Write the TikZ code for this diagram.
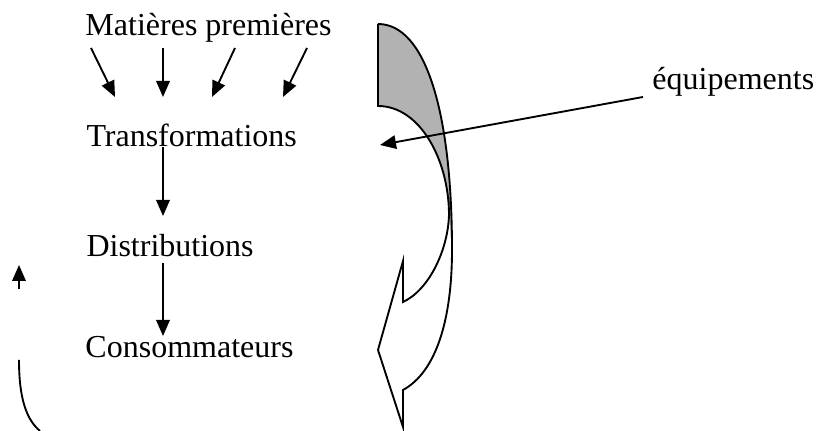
\documentclass[tikz,border=0pt]{standalone}
\usepackage{fontspec}
\setmainfont{Liberation Serif}
\usetikzlibrary{arrows.meta}
\begin{document}
\begin{tikzpicture}[x=0.4pt,y=-0.4pt,
    lbl/.style={anchor=base west, inner sep=0pt, font=\fontsize{12.8}{15}\selectfont},
    arr/.style={-{Triangle[length=6.4pt,width=5.4pt]}, line width=0.75pt},
    band/.style={line width=0.75pt, line join=miter}]
    \useasboundingbox (0,0) rectangle (816,431);

    \node[lbl] (mp) at (85,36) {Matières premières};
    \node[lbl] (tr) at (86,147) {Transformations};
    \node[lbl] (di) at (86,257) {Distributions};
    \node[lbl] (co) at (85,358) {Consommateurs};
    \node[lbl] (eq) at (652,90) {équipements};

    \coordinate (m1) at (91,48);   \coordinate (n1) at (115,97);
    \coordinate (m2) at (163,48);  \coordinate (n2) at (163,97);
    \coordinate (m3) at (235,48);  \coordinate (n3) at (212,97);
    \coordinate (m4) at (307,48);  \coordinate (n4) at (283,97);
    \foreach \i in {1,...,4} \draw[arr] (m\i) -- (n\i);

    \coordinate (t1) at (163,147); \coordinate (d0) at (163,216);
    \coordinate (d1) at (163,263); \coordinate (c0) at (163,336);
    \draw[arr] (t1) -- (d0);
    \draw[arr] (d1) -- (c0);

    % curved arrow
    \fill[black!30] (378,24) -- (378,106) .. controls (420,106) and (449,160) .. (449,215)
        -- (452,247) -- (452,250) .. controls (452,110) and (425,24) .. (378,24);
    \draw[band] (378,24) -- (378,106) .. controls (420,106) and (449,160) .. (449,215)
        .. controls (448,250) and (429,290) .. (403,302) -- (403,261) -- (378,350)
        -- (403,427) -- (403,390) .. controls (436,372) and (452,320) .. (452,250)
        .. controls (452,110) and (425,24) .. (378,24);

    \coordinate (e1) at (643,97); \coordinate (e0) at (380,145);
    \draw[arr] (e1) -- (e0);

    \coordinate (a1) at (19,289); \coordinate (a0) at (19,265);
    \draw[arr] (a1) -- (a0);
    \draw[line width=0.75pt] (19,360) .. controls (19,400) and (27,420) .. (40,431);
\end{tikzpicture}
\end{document}
